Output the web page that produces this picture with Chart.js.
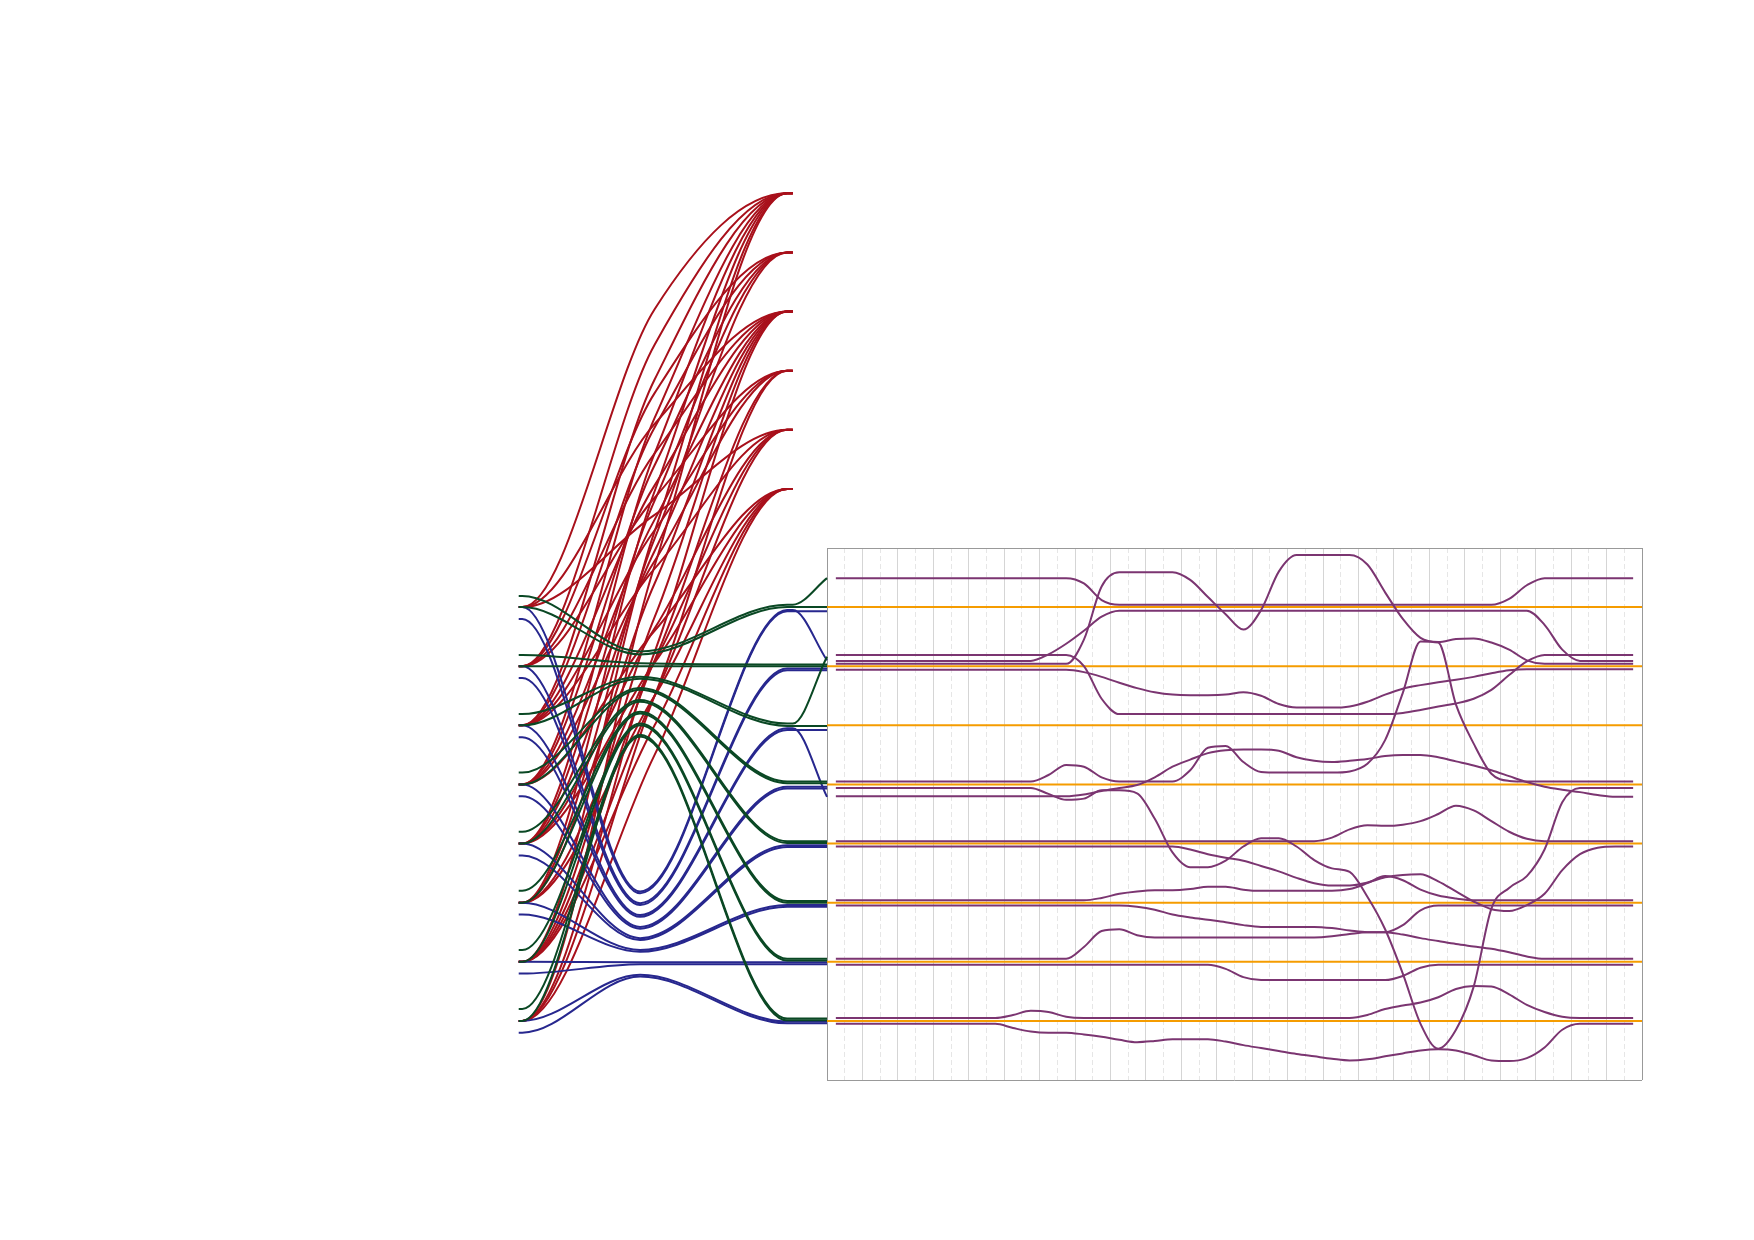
<!DOCTYPE html>
<html>
<head>
<meta charset="utf-8">
<script src="https://cdn.jsdelivr.net/npm/chart.js@4.4.1/dist/chart.umd.min.js"></script>
<style>
  html, body { margin: 0; padding: 0; background: #fff; }
  #wrap { width: 1754px; height: 1240px; }
</style>
</head>
<body>
<div id="wrap"><canvas id="myChart" width="1754" height="1240"></canvas></div>
<script>
// ---- purple tracks inside the box, one value per step (46 steps) ----
const p01 = [8.49, 8.49, 8.49, 8.49, 8.49, 8.49, 8.49, 8.49, 8.49, 8.49,
             8.49, 8.49, 8.49, 8.49, 8.40, 8.12, 8.04, 8.04, 8.04, 8.04,
             8.04, 8.04, 8.04, 8.04, 8.04, 8.04, 8.04, 8.04, 8.04, 8.04,
             8.04, 8.04, 8.04, 8.04, 8.04, 8.04, 8.04, 8.04, 8.14, 8.37,
             8.49, 8.49, 8.49, 8.49, 8.49, 8.49];
const p02 = [7.19, 7.19, 7.19, 7.19, 7.19, 7.19, 7.19, 7.19, 7.19, 7.19,
             7.19, 7.19, 7.19, 7.19, 7.00, 6.45, 6.19, 6.19, 6.19, 6.19,
             6.19, 6.19, 6.19, 6.19, 6.19, 6.19, 6.19, 6.19, 6.19, 6.19,
             6.19, 6.19, 6.21, 6.26, 6.32, 6.37, 6.45, 6.60, 6.85, 7.08,
             7.19, 7.19, 7.19, 7.19, 7.19, 7.19];
const p03 = [7.09, 7.09, 7.09, 7.09, 7.09, 7.09, 7.09, 7.09, 7.09, 7.09,
             7.09, 7.09, 7.20, 7.38, 7.60, 7.84, 7.94, 7.94, 7.94, 7.94,
             7.94, 7.94, 7.94, 7.94, 7.94, 7.94, 7.94, 7.94, 7.94, 7.94,
             7.94, 7.94, 7.94, 7.94, 7.94, 7.94, 7.94, 7.94, 7.94, 7.94,
             7.70, 7.28, 7.09, 7.09, 7.09, 7.09];
const p04 = [7.04, 7.04, 7.04, 7.04, 7.04, 7.04, 7.04, 7.04, 7.04, 7.04,
             7.04, 7.04, 7.04, 7.04, 7.45, 8.35, 8.59, 8.59, 8.59, 8.59,
             8.46, 8.17, 7.88, 7.62, 7.95, 8.60, 8.88, 8.88, 8.88, 8.88,
             8.72, 8.25, 7.80, 7.48, 7.41, 7.46, 7.47, 7.40, 7.28, 7.10,
             7.04, 7.04, 7.04, 7.04, 7.04, 7.04];
const p05 = [6.94, 6.94, 6.94, 6.94, 6.94, 6.94, 6.94, 6.94, 6.94, 6.94,
             6.94, 6.94, 6.94, 6.94, 6.90, 6.82, 6.72, 6.63, 6.56, 6.52,
             6.51, 6.51, 6.52, 6.56, 6.50, 6.36, 6.30, 6.30, 6.30, 6.32,
             6.40, 6.52, 6.62, 6.68, 6.73, 6.77, 6.82, 6.88, 6.93, 6.95,
             6.95, 6.95, 6.95, 6.95, 6.95, 6.95];
const p06 = [5.05, 5.05, 5.05, 5.05, 5.05, 5.05, 5.05, 5.05, 5.05, 5.05,
             5.05, 5.05, 5.16, 5.33, 5.30, 5.12, 5.05, 5.05, 5.05, 5.05,
             5.24, 5.62, 5.65, 5.38, 5.21, 5.20, 5.20, 5.20, 5.20, 5.22,
             5.35, 5.75, 6.55, 7.42, 7.40, 6.35, 5.69, 5.18, 5.06, 5.05,
             5.05, 5.05, 5.05, 5.05, 5.05, 5.05];
const p07 = [4.94, 4.94, 4.94, 4.94, 4.94, 4.94, 4.94, 4.94, 4.94, 4.94,
             4.94, 4.94, 4.84, 4.74, 4.76, 4.90, 4.90, 4.85, 4.42, 3.85,
             3.60, 3.60, 3.71, 3.95, 4.09, 4.09, 3.95, 3.72, 3.58, 3.52,
             3.10, 2.55, 1.80, 0.95, 0.53, 0.85, 1.58, 2.90, 3.25, 3.45,
             3.90, 4.70, 4.94, 4.94, 4.94, 4.94];
const p08 = [4.80, 4.80, 4.80, 4.80, 4.80, 4.80, 4.80, 4.80, 4.80, 4.80,
             4.80, 4.80, 4.80, 4.80, 4.83, 4.89, 4.94, 4.99, 5.12, 5.30,
             5.42, 5.53, 5.58, 5.59, 5.59, 5.57, 5.46, 5.40, 5.38, 5.40,
             5.43, 5.48, 5.50, 5.50, 5.46, 5.39, 5.32, 5.24, 5.14, 5.04,
             4.96, 4.91, 4.87, 4.82, 4.79, 4.79];
const p09 = [4.04, 4.04, 4.04, 4.04, 4.04, 4.04, 4.04, 4.04, 4.04, 4.04,
             4.04, 4.04, 4.04, 4.04, 4.04, 4.04, 4.04, 4.04, 4.04, 4.04,
             4.04, 4.04, 4.04, 4.04, 4.04, 4.04, 4.04, 4.04, 4.10, 4.24,
             4.31, 4.30, 4.32, 4.38, 4.50, 4.64, 4.56, 4.38, 4.20, 4.08,
             4.04, 4.04, 4.04, 4.04, 4.04, 4.04];
const p10 = [3.95, 3.95, 3.95, 3.95, 3.95, 3.95, 3.95, 3.95, 3.95, 3.95,
             3.95, 3.95, 3.95, 3.95, 3.95, 3.95, 3.95, 3.95, 3.95, 3.95,
             3.90, 3.82, 3.76, 3.71, 3.62, 3.53, 3.42, 3.33, 3.29, 3.29,
             3.34, 3.43, 3.47, 3.48, 3.36, 3.19, 3.02, 2.89, 2.86, 2.96,
             3.15, 3.55, 3.82, 3.93, 3.95, 3.95];
const p11 = [3.04, 3.04, 3.04, 3.04, 3.04, 3.04, 3.04, 3.04, 3.04, 3.04,
             3.04, 3.04, 3.04, 3.04, 3.04, 3.08, 3.15, 3.19, 3.21, 3.21,
             3.23, 3.27, 3.27, 3.22, 3.20, 3.20, 3.20, 3.20, 3.20, 3.23,
             3.33, 3.45, 3.38, 3.22, 3.12, 3.07, 3.04, 3.04, 3.04, 3.04,
             3.04, 3.04, 3.04, 3.04, 3.04, 3.04];
const p12 = [2.95, 2.95, 2.95, 2.95, 2.95, 2.95, 2.95, 2.95, 2.95, 2.95,
             2.95, 2.95, 2.95, 2.95, 2.95, 2.95, 2.95, 2.93, 2.88, 2.80,
             2.75, 2.71, 2.67, 2.62, 2.59, 2.59, 2.59, 2.59, 2.57, 2.53,
             2.50, 2.50, 2.62, 2.87, 2.95, 2.95, 2.95, 2.95, 2.95, 2.95,
             2.95, 2.95, 2.95, 2.95, 2.95, 2.95];
const p13 = [2.05, 2.05, 2.05, 2.05, 2.05, 2.05, 2.05, 2.05, 2.05, 2.05,
             2.05, 2.05, 2.05, 2.05, 2.25, 2.52, 2.55, 2.45, 2.41, 2.41,
             2.41, 2.41, 2.41, 2.41, 2.41, 2.41, 2.41, 2.41, 2.43, 2.47,
             2.50, 2.50, 2.46, 2.40, 2.35, 2.30, 2.26, 2.22, 2.16, 2.09,
             2.05, 2.05, 2.05, 2.05, 2.05, 2.05];
const p14 = [1.95, 1.95, 1.95, 1.95, 1.95, 1.95, 1.95, 1.95, 1.95, 1.95,
             1.95, 1.95, 1.95, 1.95, 1.95, 1.95, 1.95, 1.95, 1.95, 1.95,
             1.95, 1.95, 1.88, 1.74, 1.69, 1.69, 1.69, 1.69, 1.69, 1.69,
             1.69, 1.69, 1.76, 1.90, 1.95, 1.95, 1.95, 1.95, 1.95, 1.95,
             1.95, 1.95, 1.95, 1.95, 1.95, 1.95];
const p15 = [1.05, 1.05, 1.05, 1.05, 1.05, 1.05, 1.05, 1.05, 1.05, 1.05,
             1.10, 1.17, 1.15, 1.07, 1.05, 1.05, 1.05, 1.05, 1.05, 1.05,
             1.05, 1.05, 1.05, 1.05, 1.05, 1.05, 1.05, 1.05, 1.05, 1.05,
             1.10, 1.20, 1.26, 1.31, 1.40, 1.54, 1.59, 1.58, 1.45, 1.27,
             1.15, 1.07, 1.05, 1.05, 1.05, 1.05];
const p16 = [0.95, 0.95, 0.95, 0.95, 0.95, 0.95, 0.95, 0.95, 0.95, 0.95,
             0.88, 0.82, 0.80, 0.80, 0.77, 0.73, 0.68, 0.64, 0.66, 0.69,
             0.69, 0.69, 0.65, 0.59, 0.54, 0.49, 0.44, 0.40, 0.36, 0.33,
             0.35, 0.40, 0.45, 0.50, 0.52, 0.50, 0.42, 0.33, 0.32, 0.37,
             0.55, 0.85, 0.95, 0.95, 0.95, 0.95];

// orange reference levels
const orangeLevels = [1, 2, 3, 4, 5, 6, 7, 8];

// ---- left part: green paths (start node, middle hump, node column, box edge) ----
const greenStart = [8.19, 8.00, 7.19, 7.00, 6.19, 6.00, 5.20, 5.00, 4.20, 4.00, 3.20, 3.00, 2.20, 2.00, 1.20, 1.00];
const greenMid   = [7.25, 7.20, 7.05, 7.00, 6.82, 6.79, 6.63, 6.60, 6.43, 6.40, 6.23, 6.20, 6.03, 6.00, 5.84, 5.81];
const greenNode  = [8.04, 8.00, 7.03, 7.00, 6.03, 5.99, 5.05, 5.02, 4.04, 4.01, 3.03, 3.00, 2.05, 2.02, 1.04, 1.01];
const greenEnd   = [8.49, 8.00, 7.03, 7.00, 7.16, 5.99, 5.05, 5.02, 4.04, 4.01, 3.03, 3.00, 2.05, 2.02, 1.04, 1.01];

// blue paths
const blueStart = [8.00, 7.80, 7.00, 6.80, 6.00, 5.80, 5.00, 4.80, 4.00, 3.80, 3.00, 2.80, 2.00, 1.80, 1.00, 0.80];
const blueMid   = [3.19, 3.16, 2.99, 2.96, 2.79, 2.76, 2.59, 2.56, 2.40, 2.37, 2.20, 2.17, 1.99, 1.96, 1.78, 1.75];
const blueNode  = [7.95, 7.93, 6.96, 6.93, 5.95, 5.92, 4.96, 4.93, 3.97, 3.94, 2.96, 2.93, 1.99, 1.96, 0.99, 0.96];
const blueEnd   = [7.10, 7.93, 6.96, 6.93, 4.79, 5.92, 4.96, 4.93, 3.97, 3.94, 2.96, 2.93, 1.99, 1.96, 0.99, 0.96];

// red links: lower node level -> height halfway across -> upper node level
const redFrom = [8, 7, 6, 5, 4, 3, 2, 1,
                 8, 7, 6, 5, 4, 3, 2, 1,
                 7, 6, 5, 4, 3,
                 7, 6, 5, 2, 1,
                 8, 6, 4, 3, 2,
                 5, 4, 3, 2, 1];
const redMid  = [13.04, 12.44, 11.85, 11.20, 10.60, 9.96, 9.28, 8.70,
                 11.10, 10.60, 10.06, 9.48, 8.95, 8.40, 7.83, 7.24,
                 11.62, 11.04, 10.40, 9.80, 9.16,
                 9.85, 9.30, 8.78, 7.10, 6.50,
                 9.56, 8.65, 7.64, 7.08, 6.50,
                 7.60, 7.06, 6.50, 6.00, 5.50];
const redTo   = [15, 15, 15, 15, 15, 15, 15, 15,
                 13, 13, 13, 13, 13, 13, 13, 13,
                 14, 14, 14, 14, 14,
                 12, 12, 12, 12, 12,
                 11, 11, 11, 11, 11,
                 10, 10, 10, 10, 10];

// column positions on the x axis (the box spans 0..46)
const COL_A0 = -17.4, COL_A1 = -17.2, COL_B = -10.55, COL_M = -9.73, COL_C0 = -2.25, COL_C1 = -1.93, COL_D = 0;

const PURPLE = "#7b3571", ORANGE = "#f59c00", RED = "#a8101b", BLUE = "#27278e", GREEN = "#0a4824";

const purpleSeries = [p01, p02, p03, p04, p05, p06, p07, p08, p09, p10, p11, p12, p13, p14, p15, p16];
const datasets = [];

purpleSeries.forEach(vals => {
    datasets.push({
        data: vals.map((v, i) => ({x: i + 0.5, y: v})),
        borderColor: PURPLE,
        order: 1
    });
});

orangeLevels.forEach(lv => {
    datasets.push({
        data: [{x: 0, y: lv}, {x: 46, y: lv}],
        borderColor: ORANGE,
        order: 2
    });
});

greenStart.forEach((v, i) => {
    datasets.push({
        data: [
            {x: COL_A0, y: v}, {x: COL_A1, y: v},
            {x: COL_B, y: greenMid[i]},
            {x: COL_C0, y: greenNode[i]}, {x: COL_C1, y: greenNode[i]},
            {x: COL_D, y: greenEnd[i]}
        ],
        borderColor: GREEN,
        clip: false,
        order: 3
    });
});

blueStart.forEach((v, i) => {
    datasets.push({
        data: [
            {x: COL_A0, y: v}, {x: COL_A1, y: v},
            {x: COL_B, y: blueMid[i]},
            {x: COL_C0, y: blueNode[i]}, {x: COL_C1, y: blueNode[i]},
            {x: COL_D, y: blueEnd[i]}
        ],
        borderColor: BLUE,
        clip: false,
        order: 4
    });
});

redFrom.forEach((v, i) => {
    datasets.push({
        data: [
            {x: COL_A0, y: v}, {x: COL_A1, y: v},
            {x: COL_M, y: redMid[i]},
            {x: COL_C0, y: redTo[i]}, {x: COL_C1, y: redTo[i]}
        ],
        borderColor: RED,
        clip: false,
        order: 5
    });
});

new Chart(document.getElementById("myChart"), {
    type: "line",
    data: { datasets: datasets },
    options: {
        responsive: false,
        animation: false,
        devicePixelRatio: 1,
        events: [],
        layout: { padding: { left: 827, right: 112, top: 548, bottom: 160 } },
        plugins: { legend: { display: false }, tooltip: { enabled: false } },
        elements: {
            line: { borderWidth: 2, cubicInterpolationMode: "monotone", capBezierPoints: false, fill: false },
            point: { radius: 0 }
        },
        scales: {
            x: {
                type: "linear",
                afterDataLimits: s => { s.min = 0; s.max = 46; },
                ticks: { display: false, stepSize: 1 },
                grid: {
                    drawTicks: false,
                    lineWidth: 1,
                    color: c => {
                        const v = c.tick ? c.tick.value : 0;
                        if (v === 0 || v === 46) return "#999999";
                        return v % 2 ? "#e6e6e6" : "#d5d5d5";
                    }
                },
                border: {
                    display: false,
                    dash: c => (c.tick && c.tick.value % 2 === 1) ? [5, 3] : []
                }
            },
            y: {
                type: "linear",
                min: 0,
                max: 9,
                ticks: { display: false, stepSize: 9 },
                grid: { drawTicks: false, lineWidth: 1, color: "#999999" },
                border: { display: false }
            }
        }
    }
});
</script>
</body>
</html>
